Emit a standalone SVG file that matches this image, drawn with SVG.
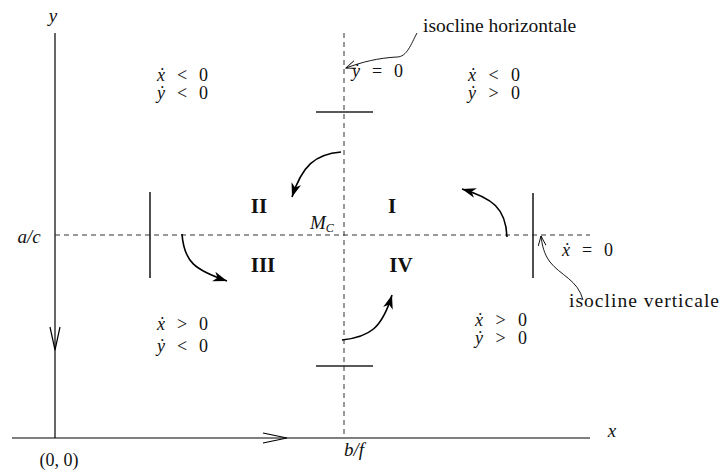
<svg xmlns="http://www.w3.org/2000/svg" width="725" height="473" viewBox="0 0 725 473">
<defs>
<style>
.ax{stroke:#000;stroke-width:1.2;fill:none}
.tk{stroke:#222;stroke-width:1.6;fill:none}
.ds{stroke:#333;stroke-width:1;fill:none;stroke-dasharray:5,4}
.fl{stroke:#000;stroke-width:1.6;fill:none}
.pt{stroke:#000;stroke-width:0.9;fill:none}
text{font-family:"Liberation Serif","DejaVu Serif",serif;fill:#111}
.t{font-size:18px}
.l{font-size:19.5px}
.m{font-size:19px;font-style:italic}
.r{font-size:21px;font-weight:bold}
.i{font-style:italic}
</style>
<marker id="stealth" markerUnits="userSpaceOnUse" markerWidth="16" markerHeight="12" refX="14" refY="5" orient="auto">
<path d="M0,0 L14,5 L0,10 L4,5 z" fill="#000"/>
</marker>
<marker id="open" markerUnits="userSpaceOnUse" markerWidth="12" markerHeight="10" refX="10" refY="4" orient="auto">
<path d="M0,0 L10,4 L0,8" fill="none" stroke="#000" stroke-width="0.9"/>
</marker>
</defs>
<rect width="725" height="473" fill="#fff"/>
<g id="axes">
<line class="ax" x1="55" y1="33" x2="55" y2="438"/>
<line class="ax" x1="12" y1="438" x2="590" y2="438"/>
<polyline class="ax" points="50,327 55,350 60,327"/>
<polyline class="ax" points="263,433 287,438 263,443"/>
<text class="m" x="53" y="22" text-anchor="middle">y</text>
<text class="m" x="612" y="437" text-anchor="middle">x</text>
<text class="t" x="59" y="466" text-anchor="middle" font-size="19">(0, 0)</text>
<text class="m" x="354" y="456" text-anchor="middle">b/f</text>
<text class="m" x="29" y="243" text-anchor="middle">a/c</text>
</g>
<g id="isoclines">
<line class="ds" x1="344" y1="33" x2="344" y2="438"/>
<line class="ds" x1="55" y1="235" x2="590" y2="235"/>
<line class="tk" x1="316" y1="112" x2="373" y2="112"/>
<line class="tk" x1="316" y1="366" x2="373" y2="366"/>
<line class="tk" x1="150" y1="192" x2="150" y2="278"/>
<line class="tk" x1="533" y1="193" x2="533" y2="278"/>
<text class="m" x="310" y="229">M<tspan font-size="12" dy="3">C</tspan></text>
</g>
<g id="region-II-label"><text class="t" x="157" y="81" textLength="51" lengthAdjust="spacing"><tspan class="i">ẋ</tspan> &lt; 0</text><text class="t" x="157" y="99" textLength="51" lengthAdjust="spacing"><tspan class="i">ẏ</tspan> &lt; 0</text></g>
<g id="region-I-label"><text class="t" x="468" y="81" textLength="52" lengthAdjust="spacing"><tspan class="i">ẋ</tspan> &lt; 0</text><text class="t" x="468" y="99" textLength="52" lengthAdjust="spacing"><tspan class="i">ẏ</tspan> &gt; 0</text></g>
<g id="region-III-label"><text class="t" x="157" y="330" textLength="51" lengthAdjust="spacing"><tspan class="i">ẋ</tspan> &gt; 0</text><text class="t" x="157" y="352" textLength="51" lengthAdjust="spacing"><tspan class="i">ẏ</tspan> &lt; 0</text></g>
<g id="region-IV-label"><text class="t" x="475" y="326" textLength="52" lengthAdjust="spacing"><tspan class="i">ẋ</tspan> &gt; 0</text><text class="t" x="475" y="344" textLength="52" lengthAdjust="spacing"><tspan class="i">ẏ</tspan> &gt; 0</text></g>
<g id="roman">
<text class="r" x="259" y="213" text-anchor="middle">II</text>
<text class="r" x="392" y="213" text-anchor="middle">I</text>
<text class="r" x="263" y="272" text-anchor="middle">III</text>
<text class="r" x="401" y="272" text-anchor="middle">IV</text>
</g>
<g id="isocline-labels">
<text class="l" x="423" y="32">isocline horizontale</text>
<text class="t" x="352" y="77" textLength="51" lengthAdjust="spacing"><tspan class="i">ẏ</tspan> = 0</text>
<text class="l" x="569" y="307" textLength="150" lengthAdjust="spacing">isocline verticale</text>
<text class="t" x="562" y="256" textLength="51" lengthAdjust="spacing"><tspan class="i">ẋ</tspan> = 0</text>
</g>
<g id="connectors">
<path class="fl" marker-end="url(#stealth)" d="M341,152 C315,154 302,166 292,197"/>
<path class="fl" marker-end="url(#stealth)" d="M182,234 C184,262 195,270 227,281"/>
<path class="fl" marker-end="url(#stealth)" d="M342,340 C370,337 382,328 392,295"/>
<path class="fl" marker-end="url(#stealth)" d="M507,237 C506,208 492,198 462,189"/>
<path class="pt" marker-end="url(#open)" d="M417,33 C411,44 407,57 397,57 C378,58 362,62 346,68"/>
<path class="pt" marker-end="url(#open)" d="M583,300 C578,280 560,275 550,262 C544,254 542,245 541,236"/>
</g>
</svg>
